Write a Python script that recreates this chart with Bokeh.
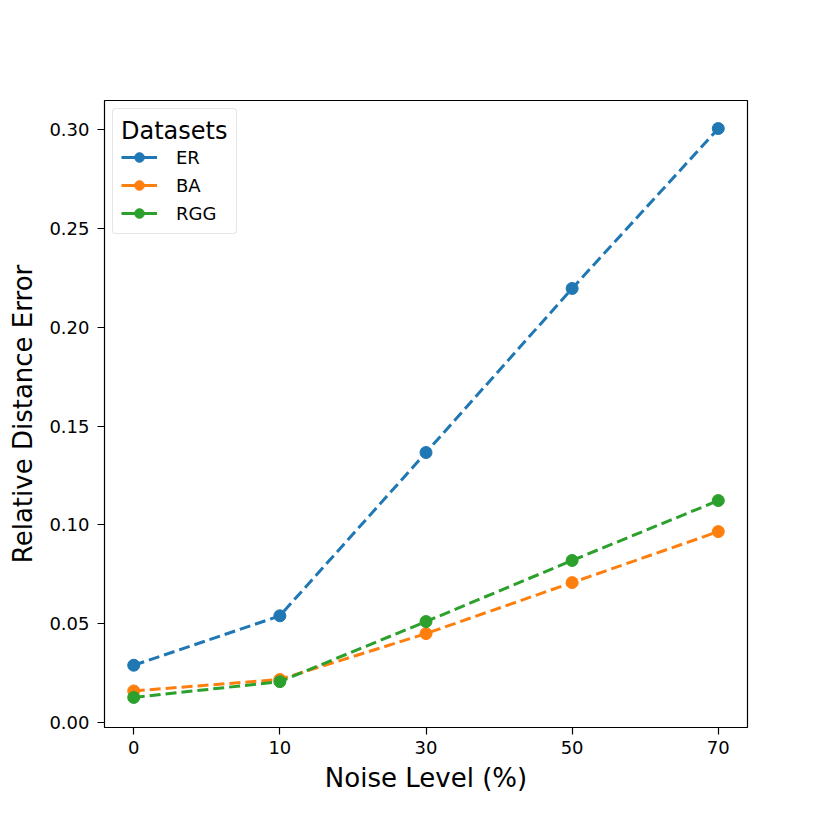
from bokeh.plotting import figure
from bokeh.models import FixedTicker, NumeralTickFormatter, Range1d, Legend, LegendItem
from bokeh.embed import file_html
from bokeh.resources import INLINE

noise_levels = ["0", "10", "30", "50", "70"]
er = [0.029, 0.054, 0.1366, 0.2196, 0.3005]
ba = [0.016, 0.0218, 0.045, 0.0708, 0.0966]
rgg = [0.0127, 0.0207, 0.0511, 0.082, 0.1123]
series_names = ["ER", "BA", "RGG"]
colors = ["#1f77b4", "#ff7f0e", "#2ca02c"]
y_ticks = [0.0, 0.05, 0.10, 0.15, 0.20, 0.25, 0.30]

FONT = "DejaVu Sans"
xs = list(range(len(noise_levels)))

p = figure(width=814, height=814, output_backend="svg", toolbar_location=None,
           x_range=Range1d(-0.2, len(noise_levels) - 0.8),
           y_range=Range1d(-0.0025, 0.3147),
           min_border_left=104, min_border_right=67, min_border_top=100, min_border_bottom=87)
p.grid.visible = False
p.outline_line_color = "black"
p.outline_line_width = 1.2
p.background_fill_color = "white"
p.border_fill_color = "white"

items = []
for name, vals, c in zip(series_names, [er, ba, rgg], colors):
    p.line(xs, vals, line_color=c, line_width=3, line_dash="11 5")
    r2 = p.scatter(xs, vals, size=12, fill_color=c, line_color=c, marker="circle")
    # single-point solid line: draws nothing in the plot, gives a solid legend glyph
    proxy = p.line(xs[:1], vals[:1], line_color=c, line_width=3)
    items.append(LegendItem(label=name, renderers=[proxy, r2]))

legend = Legend(items=items, location="top_left", title="Datasets")
legend.title_text_font = FONT
legend.title_text_font_size = "24px"
legend.title_text_font_style = "normal"
legend.title_text_color = "black"
legend.label_text_font = FONT
legend.label_text_font_size = "18px"
legend.label_text_color = "black"
legend.border_line_color = "#cccccc"
legend.border_line_width = 1.2
legend.background_fill_alpha = 0.8
if "border_radius" in Legend.properties():
    legend.border_radius = 4
legend.margin = 8
legend.padding = 8
legend.spacing = 4
legend.glyph_width = 36
legend.glyph_height = 24
legend.label_height = 24
legend.label_standoff = 19
legend.title_standoff = 0
p.add_layout(legend)

p.xaxis.ticker = FixedTicker(ticks=xs)
p.xaxis.major_label_overrides = {i: lab for i, lab in enumerate(noise_levels)}
p.yaxis.ticker = FixedTicker(ticks=y_ticks)
p.yaxis.formatter = NumeralTickFormatter(format="0.00")
p.xaxis.axis_label = "Noise Level (%)"
p.yaxis.axis_label = "Relative Distance Error"
for ax in [p.xaxis[0], p.yaxis[0]]:
    ax.axis_label_text_font = FONT
    ax.axis_label_text_font_size = "26px"
    ax.axis_label_text_font_style = "normal"
    ax.axis_label_text_color = "black"
    ax.major_label_text_font = FONT
    ax.major_label_text_font_size = "18px"
    ax.major_label_text_color = "black"
    ax.minor_tick_line_color = None
    ax.major_tick_out = 7
    ax.major_tick_in = 0
    ax.major_tick_line_color = "black"
    ax.major_tick_line_width = 1.2
    ax.axis_line_color = None
    ax.major_label_standoff = 8
p.xaxis.major_label_standoff = 6
p.xaxis.axis_label_standoff = 6
p.yaxis.axis_label_standoff = 8

open("out.html", "w").write(file_html(p, INLINE))
